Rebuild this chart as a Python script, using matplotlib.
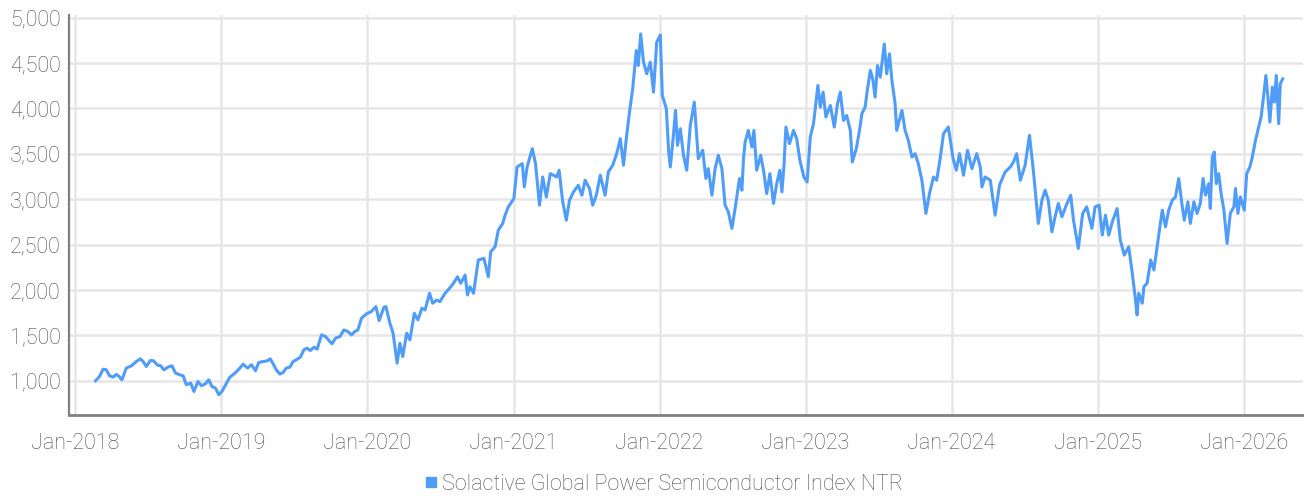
import pandas as pd
import matplotlib
matplotlib.use("Agg")
import matplotlib.pyplot as plt
import matplotlib.dates as mdates
from matplotlib.lines import Line2D

plt.rcParams['font.family'] = ['Roboto', 'DejaVu Sans']
plt.rcParams['font.weight'] = 'light'

# index level
dates = [
    "2018-02-21", "2018-03-03", "2018-03-12", "2018-03-20", "2018-03-28", "2018-04-06", "2018-04-14",
    "2018-04-21", "2018-04-28", "2018-05-09", "2018-05-22", "2018-06-03", "2018-06-13", "2018-06-20",
    "2018-06-28", "2018-07-08", "2018-07-16", "2018-07-26", "2018-08-03", "2018-08-11", "2018-08-21",
    "2018-08-31", "2018-09-09", "2018-09-19", "2018-09-28", "2018-10-06", "2018-10-17", "2018-10-25",
    "2018-11-04", "2018-11-13", "2018-11-23", "2018-12-01", "2018-12-09", "2018-12-18", "2018-12-26",
    "2019-01-03", "2019-01-11", "2019-01-23", "2019-02-05", "2019-02-17", "2019-02-25", "2019-03-08",
    "2019-03-18", "2019-03-28", "2019-04-05", "2019-04-16", "2019-04-27", "2019-05-04", "2019-05-11",
    "2019-05-19", "2019-05-28", "2019-06-05", "2019-06-13", "2019-06-22", "2019-06-30", "2019-07-08",
    "2019-07-18", "2019-07-27", "2019-08-04", "2019-08-12", "2019-08-21", "2019-08-29", "2019-09-09",
    "2019-09-19", "2019-09-30", "2019-10-05", "2019-10-14", "2019-10-25", "2019-11-04", "2019-11-14",
    "2019-11-23", "2019-12-01", "2019-12-09", "2019-12-18", "2019-12-30",
    "2020-01-11", "2020-01-23", "2020-01-31", "2020-02-12", "2020-02-17", "2020-02-27", "2020-03-06",
    "2020-03-16", "2020-03-23", "2020-03-30", "2020-04-09", "2020-04-17", "2020-04-28", "2020-05-07",
    "2020-05-17", "2020-05-25", "2020-06-05", "2020-06-13", "2020-06-23", "2020-07-01", "2020-07-14",
    "2020-07-25", "2020-08-04", "2020-08-14", "2020-08-22", "2020-09-02", "2020-09-08", "2020-09-14",
    "2020-09-23", "2020-10-05", "2020-10-19", "2020-10-30", "2020-11-05", "2020-11-16", "2020-11-24",
    "2020-12-05", "2020-12-11", "2020-12-19",
    "2021-01-02", "2021-01-10", "2021-01-23", "2021-01-28", "2021-02-04", "2021-02-17", "2021-02-25",
    "2021-03-07", "2021-03-15", "2021-03-24", "2021-04-03", "2021-04-19", "2021-04-25", "2021-05-04",
    "2021-05-13", "2021-05-21", "2021-05-31", "2021-06-12", "2021-06-21", "2021-06-29", "2021-07-10",
    "2021-07-18", "2021-07-27", "2021-08-06", "2021-08-18", "2021-08-26", "2021-09-06", "2021-09-16",
    "2021-09-25", "2021-10-03", "2021-10-10", "2021-10-18", "2021-10-26", "2021-11-04", "2021-11-09",
    "2021-11-15", "2021-11-22", "2021-11-30", "2021-12-09", "2021-12-17", "2021-12-25",
    "2022-01-03", "2022-01-08", "2022-01-18", "2022-01-24", "2022-01-28", "2022-02-04", "2022-02-10",
    "2022-02-15", "2022-02-22", "2022-03-02", "2022-03-10", "2022-03-19", "2022-03-29", "2022-04-08",
    "2022-04-19", "2022-04-27", "2022-05-03", "2022-05-12", "2022-05-20", "2022-05-28", "2022-06-06",
    "2022-06-14", "2022-06-22", "2022-07-01", "2022-07-09", "2022-07-20", "2022-07-26", "2022-07-30",
    "2022-08-03", "2022-08-11", "2022-08-20", "2022-08-25", "2022-09-01", "2022-09-11", "2022-09-18",
    "2022-09-26", "2022-10-04", "2022-10-13", "2022-10-21", "2022-10-29", "2022-11-03", "2022-11-08",
    "2022-11-13", "2022-11-22", "2022-12-02", "2022-12-10", "2022-12-18", "2022-12-28",
    "2023-01-05", "2023-01-13", "2023-01-21", "2023-02-01", "2023-02-07", "2023-02-14", "2023-02-21",
    "2023-03-04", "2023-03-14", "2023-03-22", "2023-03-29", "2023-04-06", "2023-04-14", "2023-04-23",
    "2023-04-28", "2023-05-08", "2023-05-16", "2023-05-22", "2023-05-30", "2023-06-05", "2023-06-12",
    "2023-06-18", "2023-06-24", "2023-06-30", "2023-07-07", "2023-07-17", "2023-07-23", "2023-07-30",
    "2023-08-05", "2023-08-13", "2023-08-17", "2023-08-30", "2023-09-07", "2023-09-15", "2023-09-24",
    "2023-10-02", "2023-10-10", "2023-10-19", "2023-10-29", "2023-11-07", "2023-11-17", "2023-11-25",
    "2023-12-03", "2023-12-12", "2023-12-24",
    "2024-01-05", "2024-01-13", "2024-01-21", "2024-01-31", "2024-02-10", "2024-02-21", "2024-03-04",
    "2024-03-13", "2024-03-17", "2024-03-25", "2024-04-07", "2024-04-19", "2024-04-30", "2024-05-14",
    "2024-05-27", "2024-06-04", "2024-06-12", "2024-06-21", "2024-07-03", "2024-07-14", "2024-07-24",
    "2024-08-05", "2024-08-14", "2024-08-22", "2024-08-30", "2024-09-08", "2024-09-16", "2024-09-24",
    "2024-10-03", "2024-10-14", "2024-10-25", "2024-11-01", "2024-11-13", "2024-11-24", "2024-12-04",
    "2024-12-17", "2024-12-25",
    "2025-01-04", "2025-01-12", "2025-01-20", "2025-01-28", "2025-02-06", "2025-02-18", "2025-02-26",
    "2025-03-08", "2025-03-19", "2025-03-28", "2025-04-05", "2025-04-09", "2025-04-13", "2025-04-22",
    "2025-04-26", "2025-05-04", "2025-05-13", "2025-05-21", "2025-05-29", "2025-06-05", "2025-06-11",
    "2025-06-19", "2025-06-27", "2025-07-06", "2025-07-14", "2025-07-22", "2025-07-31", "2025-08-05",
    "2025-08-14", "2025-08-20", "2025-08-29", "2025-09-06", "2025-09-14", "2025-09-21", "2025-09-27",
    "2025-10-05", "2025-10-09", "2025-10-14", "2025-10-19", "2025-10-24", "2025-10-30", "2025-11-05",
    "2025-11-12", "2025-11-20", "2025-11-28", "2025-12-07", "2025-12-11", "2025-12-17", "2025-12-23",
    "2026-01-02", "2026-01-08", "2026-01-16", "2026-01-22", "2026-01-30", "2026-02-07", "2026-02-13",
    "2026-02-20", "2026-02-25", "2026-03-02", "2026-03-07", "2026-03-13", "2026-03-18", "2026-03-23",
    "2026-03-29", "2026-04-02", "2026-04-08",
]
values = [
    1000, 1047, 1128, 1120, 1055, 1040, 1070,
    1047, 1010, 1140, 1165, 1212, 1242, 1212,
    1157, 1223, 1220, 1172, 1165, 1120, 1150,
    1165, 1085, 1066, 1055, 956, 975, 882,
    992, 945, 967, 1011, 937, 920, 846,
    882, 945, 1040, 1085, 1140, 1183, 1140,
    1176, 1110, 1201, 1212, 1220, 1242, 1187,
    1120, 1074, 1091, 1140, 1150, 1212, 1231,
    1260, 1341, 1359, 1333, 1370, 1348, 1505,
    1487, 1432, 1407, 1469, 1487, 1560, 1542,
    1505, 1542, 1560, 1689, 1736,
    1761, 1817, 1663, 1810, 1817, 1634, 1524,
    1194, 1414, 1267, 1524, 1451, 1744, 1670,
    1799, 1780, 1964, 1854, 1890, 1872, 1964,
    2019, 2074, 2146, 2074, 2165, 1945, 2036,
    1964, 2330, 2348, 2146, 2421, 2476, 2659,
    2733, 2824, 2916,
    3008, 3355, 3392, 3135, 3355, 3557, 3392,
    2934, 3245, 3025, 3282, 3245, 3319, 2971,
    2769, 2989, 3080, 3154, 3044, 3209, 3118,
    2934, 3044, 3264, 3044, 3300, 3374, 3502,
    3667, 3374, 3667, 3960, 4216, 4638, 4473,
    4820, 4510, 4382, 4510, 4180, 4729,
    4809, 4143, 3997, 3520, 3355, 3667, 3978,
    3594, 3777, 3484, 3319, 3813, 4070, 3447,
    3539, 3228, 3337, 3044, 3337, 3484, 3337,
    2934, 2860, 2678, 2898, 3228, 3099, 3447,
    3630, 3758, 3575, 3758, 3319, 3484, 3319,
    3062, 3282, 2953, 3172, 3319, 3081, 3355,
    3795, 3612, 3758, 3667, 3429, 3245,
    3190, 3686, 3832, 4253, 4015, 4180, 3905,
    4033, 3795, 4052, 4180, 3868, 3923, 3758,
    3410, 3557, 3758, 3942, 4015, 4216, 4418,
    4326, 4125, 4473, 4345, 4710, 4382, 4601,
    4308, 4052, 3758, 3978, 3758, 3649, 3465,
    3502, 3392, 3209, 2843, 3062, 3245, 3209,
    3429, 3722, 3795,
    3447, 3319, 3502, 3264, 3539, 3337, 3502,
    3355, 3135, 3245, 3209, 2824, 3154, 3300,
    3355, 3410, 3502, 3209, 3374, 3704, 3300,
    2733, 2989, 3099, 2989, 2641, 2806, 2953,
    2806, 2934, 3044, 2769, 2458, 2843, 2916,
    2678, 2916,
    2934, 2605, 2824, 2605, 2751, 2897, 2550,
    2385, 2476, 2183, 1890, 1725, 1964, 1854,
    2036, 2074, 2330, 2220, 2476, 2696, 2879,
    2696, 2879, 2989, 3025, 3228, 2916, 2769,
    2971, 2733, 2971, 2843, 2953, 3228, 3044,
    3172, 2898, 3465, 3520, 3172, 3282, 3062,
    2879, 2513, 2843, 2916, 3118, 2843, 3025,
    2879, 3282, 3355, 3465, 3649, 3795, 3905,
    4162, 4363, 4125, 3850, 4235, 4070, 4363,
    3832, 4272, 4326,
]
series_name = "Solactive Global Power Semiconductor Index NTR"
y_ticks = [1000, 1500, 2000, 2500, 3000, 3500, 4000, 4500, 5000]

df = pd.DataFrame({"Date": pd.to_datetime(dates), "Value": values})

line_color = "#4f9cf9"
text_color = "#4d4d4d"

fig = plt.figure(figsize=(13.04, 4.98), dpi=100)
ax = fig.add_axes([0.053, 0.1667, 0.946, 0.8033])

ax.plot(df["Date"], df["Value"], color=line_color, linewidth=2.2, zorder=3)

ax.set_ylim(623, 5030)
ax.set_xlim(pd.Timestamp("2017-12-17"), pd.Timestamp("2026-05-28"))
ax.set_yticks(y_ticks)
ax.yaxis.set_major_formatter(matplotlib.ticker.FuncFormatter(lambda v, p: f"{int(v):,}"))
ax.xaxis.set_major_locator(mdates.YearLocator())
ax.xaxis.set_major_formatter(mdates.DateFormatter("%b-%Y"))

ax.grid(True, color="#e6e6e6", linewidth=1.8, zorder=0)
ax.set_axisbelow(True)
for s in ["top", "right"]:
    ax.spines[s].set_visible(False)
ax.spines["left"].set_color("#808080")
ax.spines["left"].set_linewidth(1.6)
ax.spines["bottom"].set_color("#808080")
ax.spines["bottom"].set_linewidth(2.0)

ax.tick_params(axis="both", length=0, labelsize=15.5, labelcolor=text_color)
ax.tick_params(axis="y", pad=6)
ax.tick_params(axis="x", pad=13)

handle = Line2D([], [], marker="s", linestyle="none", color=line_color, markersize=7.5)
fig.legend([handle], [series_name], loc="center", bbox_to_anchor=(0.508, 0.028),
           frameon=False, fontsize=15.5, labelcolor=text_color,
           handletextpad=0.1, handlelength=0.8, borderaxespad=0)

fig.savefig("out.png", dpi=100)
